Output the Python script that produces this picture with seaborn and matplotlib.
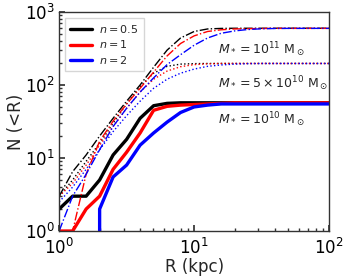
import numpy as np
import pandas as pd
import matplotlib
matplotlib.use("Agg")
import matplotlib.pyplot as plt
import seaborn as sns

# radius grid (kpc), 0.1 dex steps from 1 to 100
radius = 10 ** np.arange(0, 2.01, 0.1)

# cumulative counts
# M* = 1e10 (solid)
n05_m10 = [2, 3, 3, 5, 11, 18, 35, 52, 56, 57, 57, 57, 57, 57, 57, 57, 57, 57, 57, 57, 57]
n1_m10 = [1, 1, 2, 3, 7, 12, 22, 45, 51, 53, 54, 55, 56, 57, 57, 57, 57, 57, 57, 57, 57]
n2_m10 = [0, 0, 0, 2, 5.5, 8, 15, 22, 31, 42, 50, 53, 55, 55, 55, 55, 55, 55, 55, 55, 55]
# M* = 5e10 (dotted)
n05_m5 = [3, 5, 9, 16, 30, 55, 95, 145, 180, 193, 196, 197, 197, 197, 197, 197, 197, 197, 197, 197, 197]
n1_m5 = [3, 4.5, 8, 15, 27, 48, 80, 120, 155, 178, 190, 195, 197, 197, 197, 197, 197, 197, 197, 197, 197]
n2_m5 = [2.5, 4, 7, 13, 23, 38, 60, 90, 120, 145, 165, 180, 188, 193, 196, 197, 197, 197, 197, 197, 197]
# M* = 1e11 (dash-dot)
n05_m11 = [3, 6.5, 11, 20, 35, 60, 100, 175, 300, 440, 540, 585, 595, 598, 598, 598, 598, 598, 598, 598, 598]
n1_m11 = [0, 1, 6, 17, 32, 55, 90, 150, 250, 370, 470, 540, 570, 585, 590, 594, 596, 596, 596, 596, 596]
n2_m11 = [1, 3, 6, 13, 27, 48, 80, 125, 190, 260, 350, 440, 510, 550, 575, 588, 594, 596, 596, 596, 596]

index_labels = ["$n=0.5$", "$n=1$", "$n=2$"]
colors = ["black", "red", "blue"]

sns.set_theme(style="ticks")
plt.rcParams["font.family"] = ["DejaVu Sans"]
plt.rcParams["mathtext.fontset"] = "dejavusans"

fig = plt.figure(figsize=(3.5, 2.78), dpi=100)
ax = fig.add_axes([0.169, 0.169, 0.771, 0.788])

groups = [
    ([n05_m10, n1_m10, n2_m10], "-", 2.4),
    ([n05_m5, n1_m5, n2_m5], ":", 1.0),
    ([n05_m11, n1_m11, n2_m11], "-.", 1.0),
]
for series, ls, lw in groups:
    for vals, col, lab in zip(series, colors, index_labels):
        sns.lineplot(x=radius, y=vals, ax=ax, color=col, linestyle=ls, lw=lw,
                     estimator=None, label=lab if ls == "-" else None)

ax.set_xscale("log")
ax.set_yscale("log")
ax.set_xlim(1, 100)
ax.set_ylim(1, 1000)
ax.set_xlabel("R (kpc)", fontsize=12, labelpad=0)
ax.set_ylabel("N (<R)", fontsize=12, labelpad=0)
ax.tick_params(which="both", direction="in", labelsize=12, colors="#333333", labelcolor="black")
ax.tick_params(which="major", length=4, pad=3)
ax.tick_params(which="minor", length=2)
ax.tick_params(axis="x", which="major", pad=5)
for sp in ax.spines.values():
    sp.set_color("#333333")
    sp.set_linewidth(1.0)

ax.legend(loc="upper left", fontsize=8, handlelength=2.0, handletextpad=0.6,
          frameon=True, borderpad=0.5, labelspacing=0.3, fancybox=False)

ax.text(15, 300, r"$M_* = 10^{11}\ \mathrm{M}_\odot$", fontsize=9, va="center")
ax.text(15, 105, r"$M_* = 5 \times 10^{10}\ \mathrm{M}_\odot$", fontsize=9, va="center")
ax.text(15, 33, r"$M_* = 10^{10}\ \mathrm{M}_\odot$", fontsize=9, va="center")

fig.savefig("out.png", dpi=100)
